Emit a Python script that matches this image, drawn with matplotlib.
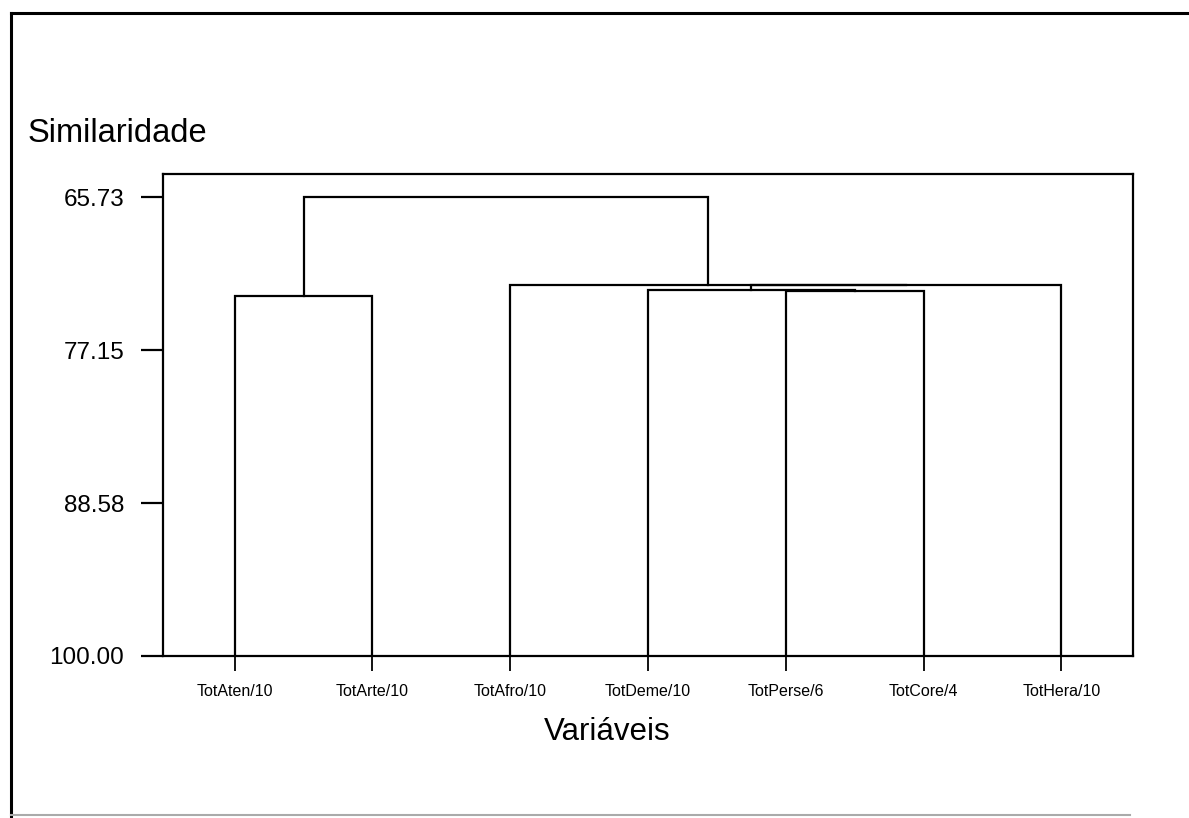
import matplotlib
matplotlib.use("Agg")
import matplotlib.pyplot as plt
from matplotlib.lines import Line2D

# ---- data ----
labels = ["TotAten/10", "TotArte/10", "TotAfro/10", "TotDeme/10",
          "TotPerse/6", "TotCore/4", "TotHera/10"]
# merges: (left cluster id, right cluster id, similarity); leaves are 0..6
merge_left = [4, 3, 8, 2, 0, 11]
merge_right = [5, 7, 6, 9, 1, 10]
merge_sim = [72.72, 72.68, 72.30, 72.27, 73.11, 65.73]
yticks = [65.73, 77.15, 88.58, 100.00]

plt.rcParams['font.family'] = ['Liberation Sans', 'DejaVu Sans']

fig = plt.figure(figsize=(11.89, 8.18), dpi=100)
ax = fig.add_axes([163/1189, 1-656/818, (1133-163)/1189, (656-174)/818])

# positions and heights of clusters
pos = {i: i + 1 for i in range(len(labels))}
hgt = {i: 100.0 for i in range(len(labels))}
lw = 1.6
for k, (a, b, s) in enumerate(zip(merge_left, merge_right, merge_sim)):
    cid = len(labels) + k
    xa, xb = pos[a], pos[b]
    ax.plot([xa, xa, xb, xb], [hgt[a], s, s, hgt[b]], color='black', lw=lw,
            solid_joinstyle='miter')
    pos[cid] = (xa + xb) / 2
    hgt[cid] = s

ax.set_xlim(0.48, 7.52)
ax.set_ylim(100, 64.0)
ax.set_yticks(yticks)
ax.set_yticklabels([f"{v:.2f}" for v in yticks], fontsize=17.5)
ax.set_xticks(range(1, len(labels) + 1))
ax.set_xticklabels(labels, fontsize=11.5)
ax.tick_params(axis='y', direction='out', length=16, width=1.6, pad=12)
ax.tick_params(axis='x', direction='out', length=11, width=1.3, pad=9)
for sp in ax.spines.values():
    sp.set_linewidth(1.6)

fig.text(28/1189, 1-142/818, "Similaridade", fontsize=23.5, ha='left', va='baseline')
fig.text(607/1189, 1-740/818, "Variáveis", fontsize=22.5, ha='center', va='baseline')

# outer border of the scanned page
fig.add_artist(Line2D([11/1189, 11/1189], [0, 1-13/818], color='black', lw=2.2,
                      transform=fig.transFigure))
fig.add_artist(Line2D([11/1189, 1], [1-13/818, 1-13/818], color='black', lw=2.2,
                      transform=fig.transFigure))
fig.add_artist(Line2D([11/1189, 0.95], [1-815/818, 1-815/818], color='#aaaaaa', lw=1.5,
                      transform=fig.transFigure))

fig.savefig("out.png", dpi=100, facecolor='white')
